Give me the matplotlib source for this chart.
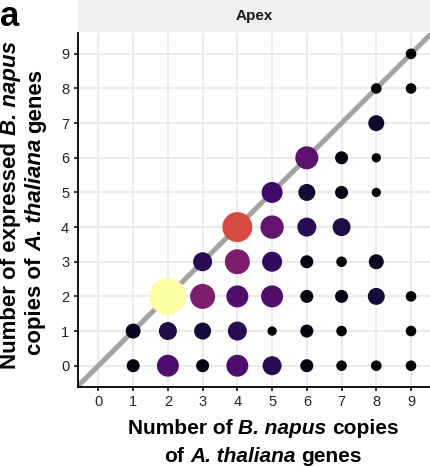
import numpy as np
import matplotlib
matplotlib.use("Agg")
import matplotlib.pyplot as plt

plt.rcParams["font.family"] = ["Liberation Sans", "DejaVu Sans"]

# number of B. napus copies, number expressed, number of gene groups
n_copies = [1, 2, 3, 4, 5, 6, 7, 8, 9,
            1, 2, 3, 4, 5, 6, 7, 9,
            2, 3, 4, 5, 6, 7, 8, 9,
            3, 4, 5, 6, 7, 8,
            4, 5, 6, 7,
            5, 6, 7, 8,
            6, 7, 8,
            8,
            8, 9,
            9]
n_expressed = [0, 0, 0, 0, 0, 0, 0, 0, 0,
               1, 1, 1, 1, 1, 1, 1, 1,
               2, 2, 2, 2, 2, 2, 2, 2,
               3, 3, 3, 3, 3, 3,
               4, 4, 4, 4,
               5, 5, 5, 5,
               6, 6, 6,
               7,
               8, 8,
               9]
n_genes = [30, 230, 30, 230, 144, 30, 8, 8, 8,
           58, 119, 96, 144, 2, 30, 8, 8,
           1000, 344, 233, 233, 30, 30, 96, 8,
           144, 344, 171, 30, 8, 58,
           575, 280, 144, 119,
           200, 96, 30, 2,
           268, 30, 2,
           76,
           8, 8,
           8]
ticks = list(range(10))
panel_title = "Apex"

fig = plt.figure(figsize=(4.31, 4.66), dpi=100)
ax = fig.add_axes([0.180, 0.1706, 0.822, 0.7585])

vals = np.array(n_genes, dtype=float)
rel = vals / vals.max()
diam_px = 8 + 29 * np.sqrt(rel)
sizes = (diam_px * 0.72) ** 2

ax.plot([-0.6, 9.6], [-0.6, 9.6], color="#a3a3a3", lw=3.6, zorder=2,
        solid_capstyle="butt")
ax.scatter(n_copies, n_expressed, s=sizes, c=rel, cmap="inferno", vmin=0, vmax=1,
           linewidths=0, zorder=3)

ax.set_xlim(-0.6, 9.6)
ax.set_ylim(-0.6, 9.6)
ax.set_xticks(ticks)
ax.set_yticks(ticks)
ax.grid(True, color="#ebebeb", lw=1.5, zorder=0)
ax.set_axisbelow(True)
for s in ["top", "right"]:
    ax.spines[s].set_visible(False)
for s in ["left", "bottom"]:
    ax.spines[s].set_linewidth(1.3)
ax.tick_params(length=3, width=1.1, labelsize=10.5, labelcolor="#222222", pad=3)

# facet strip
strip = fig.add_axes([0.180, 0.931, 0.822, 0.069])
strip.set_facecolor("#efefef")
strip.set_xticks([])
strip.set_yticks([])
for s in strip.spines.values():
    s.set_visible(False)
strip.text(0.5, 0.5, panel_title, ha="center", va="center", fontsize=11,
           fontweight="bold", color="#1a1a1a")

fig.text(0.0, 1.0, "a", ha="left", va="top", fontsize=25, fontweight="bold")

renderer = fig.canvas.get_renderer()


def seg_width(txt, style, size):
    t = fig.text(0, 0, txt, fontsize=size, fontweight="bold", fontstyle=style)
    w = t.get_window_extent(renderer).width
    t.remove()
    return w


def rich_line(parts, cx, cy, size, rotation=0):
    # parts: list of (text, style); spaces placed between parts
    sp = seg_width("x x", "normal", size) - seg_width("xx", "normal", size)
    widths = [seg_width(p, st, size) for p, st in parts]
    total = sum(widths) + sp * (len(parts) - 1)
    pos = -total / 2
    for (p, st), w in zip(parts, widths):
        if rotation == 0:
            x, y = cx + pos / fig.dpi / fig.get_figwidth(), cy
        else:
            x, y = cx, cy + pos / fig.dpi / fig.get_figheight()
        fig.text(x, y, p, fontsize=size, fontweight="bold", fontstyle=st,
                 rotation=rotation, ha="left" if rotation == 0 else "center",
                 va="center" if rotation == 0 else "bottom",
                 rotation_mode="anchor" if rotation == 0 else "default")
        pos += w + sp


rich_line([("Number of", "normal"), ("B. napus", "italic"), ("copies", "normal")],
          263 / 431, 1 - 429 / 466, 15)
rich_line([("of", "normal"), ("A. thaliana", "italic"), ("genes", "normal")],
          263 / 431, 1 - 456 / 466, 15)
rich_line([("Number of expressed", "normal"), ("B. napus", "italic")],
          11 / 431, 1 - 205 / 466, 16, rotation=90)
rich_line([("copies of", "normal"), ("A. thaliana", "italic"), ("genes", "normal")],
          36 / 431, 1 - 212 / 466, 16, rotation=90)

fig.savefig("out.png", dpi=100)
